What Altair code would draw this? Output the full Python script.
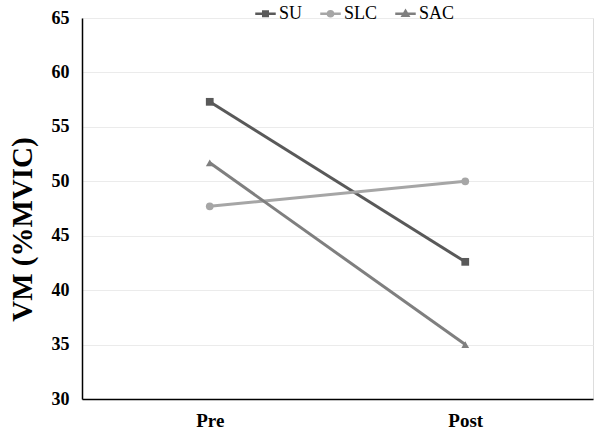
import altair as alt
import pandas as pd

phases = ["Pre", "Post"]
series = ["SU", "SLC", "SAC"]
su = [57.3, 42.6]
slc = [47.7, 50.0]
sac = [51.7, 35.0]
colors = ["#595959", "#A6A6A6", "#7F7F7F"]
y_ticks = [30, 35, 40, 45, 50, 55, 60, 65]

rows = []
for name, vals in zip(series, [su, slc, sac]):
    for p, v in zip(phases, vals):
        rows.append({"phase": p, "series": name, "value": v})
df = pd.DataFrame(rows)

FONT = "Liberation Serif"

x_enc = alt.X("phase:N", sort=phases, title=None,
              scale=alt.Scale(type="point", padding=0.5),
              axis=alt.Axis(labelFont=FONT, labelFontSize=19, labelFontWeight="bold",
                            labelColor="black", labelPadding=12, ticks=False,
                            domainColor="black", domainWidth=1.5, grid=False, labelAngle=0))
y_enc = alt.Y("value:Q", title="VM (%MVIC)",
              scale=alt.Scale(domain=[30, 65], nice=False, zero=False),
              axis=alt.Axis(values=y_ticks, labelFont=FONT, labelFontSize=18,
                            labelFontWeight="bold", labelColor="black", labelPadding=13,
                            ticks=False, domainColor="black", domainWidth=1.5,
                            grid=True, gridColor="#EBEBEB", gridWidth=1,
                            titleFont=FONT, titleFontSize=29, titleFontWeight="bold",
                            titleColor="black", titlePadding=14, titleY=211))

color_scale = alt.Scale(domain=series, range=colors)

lines = alt.Chart(df).mark_line(strokeWidth=3).encode(
    x=x_enc, y=y_enc,
    color=alt.Color("series:N", scale=color_scale, legend=None),
)

points = alt.Chart(df).mark_point(filled=True, opacity=1, size=60).encode(
    x=x_enc, y=y_enc,
    color=alt.Color("series:N", scale=color_scale, legend=None),
    shape=alt.Shape("series:N", scale=alt.Scale(domain=series,
                    range=["square", "circle", "triangle-up"]), legend=None),
)

legend_paths = [
    "M-1,0H1M-0.22,-0.22H0.22V0.22H-0.22Z",
    "M-1,0H1M-0.25,0A0.25,0.25 0 1,0 0.25,0A0.25,0.25 0 1,0 -0.25,0Z",
    "M-1,0H1M0,-0.27L0.27,0.2H-0.27Z",
]

leg = alt.Legend(title=None, orient="none", direction="horizontal",
                 legendX=172, legendY=-16,
                 labelFont=FONT, labelFontSize=18,
                 labelColor="black", symbolSize=420,
                 symbolStrokeWidth=2.5, labelOffset=2,
                 columnPadding=12)

legend_layer = alt.Chart(df).transform_filter("false").mark_point(
    filled=True, opacity=1).encode(
    x=x_enc, y=y_enc,
    color=alt.Color("series:N", scale=alt.Scale(domain=series, range=colors), legend=leg),
    stroke=alt.Stroke("series:N", scale=alt.Scale(domain=series, range=colors), legend=leg),
    shape=alt.Shape("series:N", scale=alt.Scale(domain=series, range=legend_paths), legend=leg),
)

chart = alt.layer(lines, points, legend_layer).resolve_scale(
    color="independent", shape="independent", stroke="independent"
).properties(
    width=511, height=381,
    autosize=alt.AutoSizeParams(type="none"),
    padding={"left": 82, "top": 18, "right": 7, "bottom": 37},
).configure_view(stroke=None).configure(background="white")

chart.save("out.html", embed_options={"renderer": "svg", "actions": False})
